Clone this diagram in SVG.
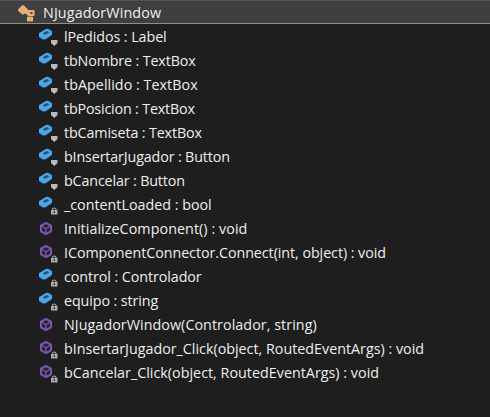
<svg xmlns="http://www.w3.org/2000/svg" xmlns:xlink="http://www.w3.org/1999/xlink" width="490" height="417" viewBox="0 0 490 417">
<style>
text{font-family:"Open Sans","Noto Sans","Liberation Sans",sans-serif;font-size:14.3px;fill:#eeeeee}
</style>
<defs>
<g id="field">
<path d="M2 -2.500 L8 -6 Q9.500 -6.500 11 -5.700 L13 -4.300 L13 -1.500 L7 2.300 Q6 2.900 5 2.300 L2 0.500Z" fill="#4ea6ea" stroke="#4ea6ea" stroke-width="2" stroke-linejoin="round"/>
<path d="M4.500 -2.500 L9 -5 L11.500 -3.700 L7 -1.200Z" fill="#23506f"/>
</g>
<g id="method">
<path d="M8 -5 L13 -2.300 L13 3.300 L8 6 L3 3.300 L3 -2.300Z" fill="#282030" stroke="#7a55b4" stroke-width="2" stroke-linejoin="round"/>
<path d="M4 -1.800 L8 0.700 L12 -1.800 M8 0.700 L8 5" fill="none" stroke="#7a55b4" stroke-width="1.300"/>
</g>
<path id="shield" d="M0 0 H6.500 V3 L3.250 6 L0 3Z" fill="#b9b9b9"/>
<g id="lock">
<rect x="0" y="2" width="6.500" height="4.500" fill="#a9a9a9"/>
<path d="M1.500 2.200 V1.300 Q1.500 0 3.250 0 Q5 0 5 1.300 V2.200" fill="none" stroke="#a9a9a9" stroke-width="1.100"/>
<rect x="2.500" y="3.500" width="1.500" height="1.500" fill="#2a2a2a"/>
</g>
</defs>
<rect id="background" width="490" height="417" fill="#1e1e1e"/>
<g id="header">
<rect width="490" height="23" fill="#3f3f3f"/>
<rect width="490" height="1" fill="#555555"/>
<rect y="23" width="490" height="1" fill="#8c8c8c"/>
<g fill="none" stroke="#e6b07a" stroke-linejoin="round" stroke-linecap="round">
<path d="M19.500 10 L23 6.500 L26.500 10 L23 13Z" fill="#e6b07a" stroke-width="3"/>
<path d="M25 11 L29 14" stroke-width="3.500"/>
<path d="M29 11 H33.500 V15 H29Z" stroke-width="2.200"/>
<path d="M28 17.500 H32 V20.500 H28Z" fill="#e6b07a" stroke-width="2.200"/>
</g>
<text x="43" y="18" textLength="118">NJugadorWindow</text>
</g>
<g id="row1"><use xlink:href="#field" x="38" y="36"/><use xlink:href="#shield" x="51" y="40"/><text x="64" y="42" textLength="102.700">lPedidos : Label</text></g>
<g id="row2"><use xlink:href="#field" x="38" y="60"/><use xlink:href="#shield" x="51" y="64"/><text x="64" y="66" textLength="131.700">tbNombre : TextBox</text></g>
<g id="row3"><use xlink:href="#field" x="38" y="84"/><use xlink:href="#shield" x="51" y="88"/><text x="64" y="90" textLength="133.700">tbApellido : TextBox</text></g>
<g id="row4"><use xlink:href="#field" x="38" y="108"/><use xlink:href="#shield" x="51" y="112"/><text x="64" y="114" textLength="131">tbPosicion : TextBox</text></g>
<g id="row5"><use xlink:href="#field" x="38" y="132"/><use xlink:href="#shield" x="51" y="136"/><text x="64" y="138" textLength="138">tbCamiseta : TextBox</text></g>
<g id="row6"><use xlink:href="#field" x="38" y="156"/><use xlink:href="#shield" x="51" y="160"/><text x="64" y="162" textLength="166">bInsertarJugador : Button</text></g>
<g id="row7"><use xlink:href="#field" x="38" y="180"/><use xlink:href="#shield" x="51" y="184"/><text x="64" y="186" textLength="121">bCancelar : Button</text></g>
<g id="row8"><use xlink:href="#field" x="38" y="204"/><use xlink:href="#lock" x="51" y="208"/><text x="64" y="210" textLength="147.700">_contentLoaded : bool</text></g>
<g id="row9"><use xlink:href="#method" x="38" y="228"/><text x="64" y="234" textLength="183.300">InitializeComponent() : void</text></g>
<g id="row10"><use xlink:href="#method" x="38" y="251"/><use xlink:href="#lock" x="51" y="256"/><text x="64" y="258" textLength="322">IComponentConnector.Connect(int, object) : void</text></g>
<g id="row11"><use xlink:href="#field" x="38" y="276"/><use xlink:href="#lock" x="51" y="280"/><text x="64" y="282" textLength="137.700">control : Controlador</text></g>
<g id="row12"><use xlink:href="#field" x="38" y="300"/><use xlink:href="#lock" x="51" y="304"/><text x="64" y="306" textLength="94.300">equipo : string</text></g>
<g id="row13"><use xlink:href="#method" x="38" y="324"/><text x="64" y="330" textLength="252.700">NJugadorWindow(Controlador, string)</text></g>
<g id="row14"><use xlink:href="#method" x="38" y="347"/><use xlink:href="#lock" x="51" y="352"/><text x="64" y="354" textLength="360">bInsertarJugador_Click(object, RoutedEventArgs) : void</text></g>
<g id="row15"><use xlink:href="#method" x="38" y="371"/><use xlink:href="#lock" x="51" y="376"/><text x="64" y="378" textLength="315">bCancelar_Click(object, RoutedEventArgs) : void</text></g>
</svg>
